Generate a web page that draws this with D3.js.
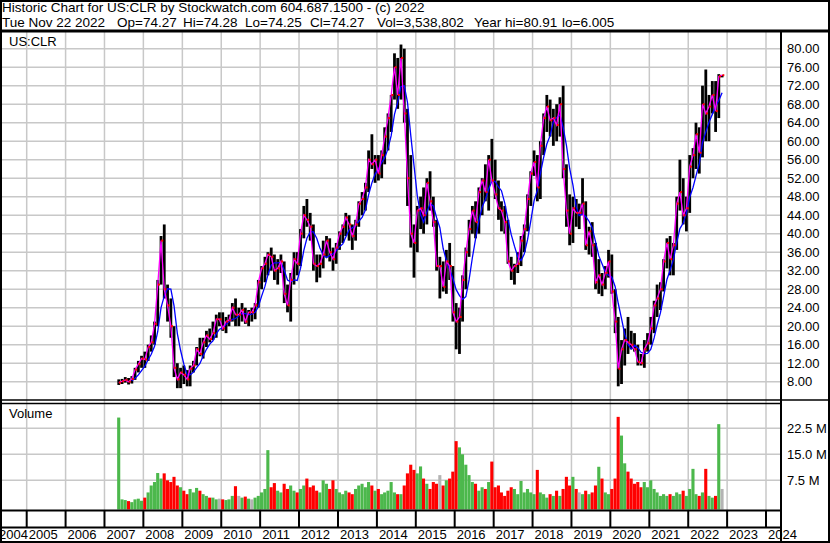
<!DOCTYPE html>
<html>
<head>
<meta charset="utf-8">
<script src="https://cdn.jsdelivr.net/npm/d3@7"></script>
<style>
  body { margin: 0; background: #fff; }
  text { font-family: 'Liberation Sans', Arial, sans-serif; font-size: 13px; fill: #000; }
  text.head { font-size: 13.5px; }
</style>
</head>
<body>
<script>
// monthly bars, first one is May 2007
var firstMonth = '2007-05';

var highs = [
  8.5, 8.6, 9.0, 8.8, 9.2, 11.0, 12.5, 13.6,                       // 2007
  14.5, 16.0, 18.0, 21.0, 30.0, 39.5, 42.0, 29.0, 26.0, 20.0, 12.0, 11.0, // 2008
  11.5, 10.5, 11.5, 12.5, 15.5, 17.5, 17.5, 19.0, 19.5, 21.0, 22.5, 23.0, // 2009
  23.0, 22.0, 22.5, 25.0, 26.0, 24.0, 25.0, 24.0, 23.5, 24.0, 25.0, 30.0, // 2010
  33.0, 35.0, 36.0, 37.0, 35.5, 34.5, 35.5, 34.0, 29.0, 31.5, 36.0, 36.0, // 2011
  41.0, 46.0, 47.5, 44.5, 42.0, 35.5, 35.5, 38.5, 39.5, 39.0, 37.0, 38.0, // 2012
  40.5, 42.0, 44.5, 44.0, 42.0, 43.0, 47.0, 49.0, 51.0, 58.0, 61.5, 57.0, // 2013
  57.0, 58.0, 63.0, 66.0, 70.0, 79.0, 78.0, 80.9, 80.0, 67.0, 57.0, 42.0, // 2014
  46.0, 48.0, 50.0, 52.0, 53.5, 48.0, 43.0, 35.0, 34.0, 36.5, 38.0, 33.0, // 2015
  25.0, 24.0, 31.0, 37.0, 43.0, 46.0, 47.0, 50.0, 52.0, 55.0, 57.0, 60.5, // 2016
  56.0, 51.5, 47.0, 46.0, 43.0, 35.0, 33.5, 36.0, 39.5, 42.0, 48.5, 53.5, // 2017
  58.0, 57.0, 60.0, 66.0, 70.0, 69.0, 67.0, 68.0, 69.5, 72.0, 55.0, 48.5, // 2018
  48.0, 47.5, 46.5, 52.0, 47.0, 41.5, 42.5, 38.0, 34.5, 31.5, 33.0, 36.5, // 2019
  35.5, 28.0, 22.0, 17.0, 19.5, 22.0, 19.0, 18.5, 16.0, 14.0, 17.0, 18.5, // 2020
  22.0, 25.5, 29.0, 29.5, 34.5, 39.0, 39.5, 38.0, 48.0, 56.0, 52.0, 48.0, // 2021
  57.0, 58.5, 64.0, 63.0, 72.0, 75.5, 70.0, 73.0, 73.0, 74.5, 74.3        // 2022
];

var lows = [
  7.3, 7.5, 7.8, 7.4, 7.6, 8.4, 10.0, 11.0,
  11.0, 12.5, 14.5, 16.0, 20.0, 29.0, 26.0, 21.0, 17.5, 9.0, 6.6, 6.6,
  7.5, 7.0, 7.0, 10.0, 11.5, 13.5, 13.0, 15.5, 16.5, 17.0, 17.5, 20.0,
  19.0, 18.5, 20.0, 21.0, 20.0, 20.0, 21.0, 20.5, 20.0, 21.0, 21.5, 24.0,
  28.0, 29.5, 31.0, 32.0, 30.0, 29.0, 31.5, 25.0, 23.0, 21.0, 29.0, 31.0,
  33.0, 39.0, 41.5, 38.5, 32.0, 29.5, 30.5, 32.5, 35.0, 34.0, 32.0, 33.5,
  36.5, 38.0, 39.5, 38.5, 36.5, 38.5, 41.5, 44.0, 45.0, 49.0, 54.0, 51.0,
  51.5, 52.0, 55.0, 58.0, 62.0, 69.0, 67.0, 69.0, 64.0, 46.0, 37.0, 30.5,
  36.0, 41.0, 40.0, 42.0, 45.0, 41.5, 32.0, 26.0, 27.5, 27.0, 30.0, 21.0,
  15.0, 14.0, 21.0, 28.0, 35.0, 40.0, 39.0, 40.0, 44.0, 47.0, 45.0, 51.0,
  47.5, 43.0, 40.5, 40.0, 33.5, 30.0, 29.0, 31.5, 33.0, 36.0, 40.5, 46.0,
  52.5, 47.0, 47.5, 57.0, 62.0, 61.0, 59.0, 60.0, 61.0, 52.0, 41.5, 37.5,
  38.0, 41.5, 41.0, 44.0, 36.5, 35.5, 35.0, 28.0, 27.0, 26.5, 28.0, 30.5,
  27.0, 18.5, 7.0, 7.5, 11.5, 14.0, 15.0, 14.5, 11.5, 11.5, 11.0, 14.5,
  16.0, 18.5, 22.0, 23.5, 27.5, 32.5, 31.0, 31.0, 36.5, 45.0, 42.0, 40.5,
  44.5, 52.0, 54.0, 53.0, 56.5, 60.0, 60.0, 66.0, 62.0, 65.0, 73.8
];

var closes = [
  7.8, 8.1, 8.4, 8.0, 8.6, 10.6, 11.8, 13.0,
  12.8, 15.5, 16.5, 20.5, 29.0, 38.5, 28.0, 24.5, 20.0, 11.0, 8.5, 10.0,
  9.5, 8.5, 10.8, 11.5, 15.0, 14.0, 16.5, 18.0, 17.2, 18.5, 21.5, 21.5,
  19.5, 21.0, 21.3, 24.0, 22.5, 22.5, 23.5, 21.0, 23.0, 23.0, 24.5, 29.5,
  32.5, 33.5, 35.5, 35.0, 32.0, 32.5, 34.0, 27.0, 24.5, 30.0, 34.5, 33.5,
  40.0, 44.0, 43.0, 41.5, 33.5, 33.0, 33.5, 35.5, 38.5, 36.0, 34.5, 37.0,
  40.0, 41.5, 43.5, 42.0, 39.5, 42.0, 46.5, 47.5, 50.0, 56.0, 55.0, 56.0,
  53.0, 57.0, 61.0, 65.0, 70.0, 76.0, 70.0, 78.0, 66.0, 52.0, 40.0, 38.0,
  45.0, 45.5, 44.0, 51.0, 47.0, 42.5, 33.0, 33.0, 28.5, 34.0, 33.0, 23.0,
  21.0, 22.0, 30.0, 36.0, 41.0, 45.0, 42.5, 49.0, 51.5, 49.0, 56.0, 51.5,
  48.5, 45.5, 45.0, 42.5, 34.0, 32.0, 33.0, 33.5, 38.5, 41.0, 47.5, 53.0,
  55.5, 50.0, 59.0, 65.0, 67.5, 64.5, 65.0, 63.5, 68.0, 54.0, 45.0, 40.0,
  45.5, 44.5, 44.5, 46.5, 37.5, 40.5, 37.5, 29.5, 31.0, 29.0, 31.5, 34.0,
  27.5, 21.0, 10.8, 15.0, 17.0, 16.5, 16.0, 15.0, 12.3, 12.0, 15.0, 16.3,
  19.5, 24.5, 26.0, 28.0, 34.0, 38.0, 34.5, 37.5, 46.5, 49.0, 44.0, 45.5,
  54.5, 57.0, 61.5, 57.5, 68.0, 66.0, 67.5, 70.0, 66.5, 74.0, 74.27
];

// volume in millions of shares
var volumes = [
  25.6, 2.0, 1.8, 1.5, 1.2, 2.0, 2.2, 1.6,
  2.5, 4.0, 6.0, 7.0, 9.6, 8.0, 9.5, 7.5, 7.0, 8.5, 6.0, 5.5,
  4.5, 3.5, 5.0, 4.0, 5.3, 4.5, 3.5, 3.0, 2.5, 2.5, 2.0, 2.2,
  2.0, 1.8, 2.0, 3.0, 5.8, 3.0, 2.5, 2.8, 2.2, 2.0, 2.5, 3.0,
  4.0, 5.0, 16.2, 5.5, 6.7, 4.5, 4.0, 6.5, 5.0, 6.0, 4.5, 4.0,
  5.0, 6.0, 8.0, 5.5, 6.0, 4.5, 4.0, 7.5, 6.5, 5.0, 7.5, 5.0,
  4.0, 3.5, 4.5, 4.0, 3.5, 5.0, 6.0, 6.5, 5.5, 7.0, 6.0, 4.5,
  5.0, 3.5, 4.0, 4.5, 7.0, 4.0, 3.5, 3.5, 6.0, 9.5, 12.0, 10.5,
  9.5, 11.5, 8.0, 6.5, 5.0, 7.0, 6.5, 9.0, 6.0, 7.5, 8.0, 10.0,
  18.8, 17.0, 15.0, 12.0, 9.0, 7.0, 6.5, 4.5, 5.5, 5.0, 7.0, 12.9,
  5.5, 6.0, 4.0, 3.0, 4.5, 5.5, 5.0, 3.5, 7.3, 4.0, 5.0, 4.0,
  3.5, 10.5, 4.0, 3.5, 2.5, 3.5, 3.0, 4.5, 3.0, 5.0, 8.5, 6.0,
  8.5, 5.0, 4.0, 3.5, 4.5, 3.5, 4.0, 6.0, 11.4, 8.0, 4.0, 3.5,
  5.0, 8.0, 25.8, 20.4, 12.4, 10.0, 8.0, 6.5, 7.0, 5.5, 7.0, 5.5,
  7.5, 5.0, 4.0, 3.0, 3.5, 3.0, 3.5, 3.0, 4.0, 3.5, 4.5, 3.0,
  5.0, 10.8, 3.5, 3.0, 4.0, 10.8, 3.0, 2.5, 3.0, 23.7, 5.0
];

var priceTicks = d3.range(8, 81, 4);
var volumeTicks = [7.5, 15, 22.5];

var headerLine1 = 'Historic Chart for US:CLR by Stockwatch.com 604.687.1500 - (c) 2022';
var headerFields = [
  ['Tue Nov 22 2022', 2], ['Op=74.27', 117], ['Hi=74.28', 183], ['Lo=74.25', 245],
  ['Cl=74.27', 310], ['Vol=3,538,802', 377], ['Year hi=80.91', 474], ['lo=6.005', 562]
];

var W = 830, H = 543;
var axisX = 781;

var svg = d3.select('body').append('svg')
    .attr('width', W)
    .attr('height', H);

svg.append('rect').attr('width', W).attr('height', H).attr('fill', '#fff');

var start = d3.timeParse('%Y-%m')(firstMonth);
var data = closes.map((c, i) => {
    var prev = i > 0 ? closes[i - 1] : null;
    var dir = prev === null ? 1 : (Math.abs(c - prev) / prev < 0.005 ? 0 : (c > prev ? 1 : -1));
    return {
        date: d3.timeDay.offset(d3.timeMonth.offset(start, i), 14),
        hi: highs[i], lo: lows[i], close: c, vol: volumes[i], dir: dir
    };
});

// slow moving average (5 months)
data.forEach((d, i) => {
    d.ma = i >= 4 ? d3.mean(closes.slice(i - 4, i + 1)) : null;
});

var x = d3.scaleTime()
    .domain([new Date(2005, 0, 1), new Date(2024, 0, 1)])
    .range([26.7, 766]);

var y = d3.scaleLinear().domain([8, 80]).range([381.7, 48.7]);
var vy = d3.scaleLinear().domain([0, 22.5]).range([506.3, 428.3]);

var years = d3.timeYear.range(new Date(2004, 0, 1), new Date(2025, 0, 1));

// gridlines
var grid = svg.append('g').attr('stroke', '#c8c8c8').attr('stroke-width', 1.5);

grid.selectAll('line.h')
    .data(priceTicks)
    .enter()
    .append('line')
    .attr('x1', 2).attr('x2', axisX)
    .attr('y1', d => y(d)).attr('y2', d => y(d));

grid.selectAll('line.vh')
    .data(volumeTicks)
    .enter()
    .append('line')
    .attr('x1', 2).attr('x2', axisX)
    .attr('y1', d => vy(d)).attr('y2', d => vy(d));

grid.selectAll('line.v')
    .data(years.filter(d => x(d) > 2 && x(d) < axisX))
    .enter()
    .append('line')
    .attr('x1', d => x(d)).attr('x2', d => x(d))
    .attr('y1', 32).attr('y2', 510);

// price panel
svg.append('clipPath').attr('id', 'clipPrice')
    .append('rect').attr('x', 2).attr('y', 32).attr('width', axisX - 2).attr('height', 367);

var price = svg.append('g').attr('clip-path', 'url(#clipPrice)');

price.selectAll('rect.bar')
    .data(data)
    .enter()
    .append('rect')
    .attr('x', d => x(d.date) - 1.4)
    .attr('width', 2.8)
    .attr('y', d => y(d.hi))
    .attr('height', d => y(d.lo) - y(d.hi))
    .attr('fill', '#000');

price.append('path')
    .datum(data.filter(d => d.ma !== null))
    .attr('fill', 'none')
    .attr('stroke', '#0000ff')
    .attr('stroke-width', 1.3)
    .attr('d', d3.line().x(d => x(d.date)).y(d => y(d.ma)));

price.append('path')
    .datum(data)
    .attr('fill', 'none')
    .attr('stroke', '#ff00ff')
    .attr('stroke-width', 1.3)
    .attr('d', d3.line().x(d => x(d.date)).y(d => y(d.close)));

price.selectAll('rect.cl')
    .data(data)
    .enter()
    .append('rect')
    .attr('x', d => x(d.date) + 0.2)
    .attr('width', 2)
    .attr('y', d => y(d.close) - 1)
    .attr('height', 2)
    .attr('fill', '#ff0000');

// volume panel
var volColor = d => d.dir > 0 ? '#4cb84c' : (d.dir < 0 ? '#ff0000' : '#b4b4b4');

svg.append('g').selectAll('rect')
    .data(data)
    .enter()
    .append('rect')
    .attr('x', d => x(d.date) - 1.6)
    .attr('width', 3.1)
    .attr('y', d => vy(d.vol))
    .attr('height', d => 509.5 - vy(d.vol))
    .attr('fill', volColor);

// frame
var frame = svg.append('g').attr('stroke', '#000');
frame.append('line').attr('x1', 0).attr('x2', W).attr('y1', 31).attr('y2', 31).attr('stroke-width', 3);
frame.append('line').attr('x1', axisX).attr('x2', axisX).attr('y1', 31).attr('y2', H).attr('stroke-width', 2);
frame.append('line').attr('x1', 0).attr('x2', W).attr('y1', 400).attr('y2', 400).attr('stroke-width', 1.5);
frame.append('line').attr('x1', 0).attr('x2', axisX).attr('y1', 403.5).attr('y2', 403.5).attr('stroke-width', 1.5);
frame.append('line').attr('x1', 0).attr('x2', axisX).attr('y1', 510.5).attr('y2', 510.5).attr('stroke-width', 2);
frame.append('line').attr('x1', 0).attr('x2', axisX).attr('y1', 527.5).attr('y2', 527.5).attr('stroke-width', 2);
frame.selectAll('line.yb')
    .data(years.filter(d => x(d) > 2 && x(d) < axisX))
    .enter()
    .append('line')
    .attr('x1', d => x(d)).attr('x2', d => x(d))
    .attr('y1', 510).attr('y2', 528)
    .attr('stroke-width', 2);
frame.append('rect').attr('x', 1).attr('y', 1).attr('width', W - 2).attr('height', H - 2)
    .attr('fill', 'none').attr('stroke-width', 2);

// axes
svg.append('g')
    .attr('transform', 'translate(' + axisX + ',0)')
    .call(d3.axisRight(y).tickValues(priceTicks).tickSize(0).tickPadding(6).tickFormat(d3.format('.2f')));

svg.append('g')
    .attr('transform', 'translate(' + axisX + ',0)')
    .call(d3.axisRight(vy).tickValues(volumeTicks).tickSize(0).tickPadding(6).tickFormat(d => d3.format('.1f')(d) + ' M'));

svg.selectAll('.domain').remove();
svg.selectAll('.tick text')
    .style('font-family', "'Liberation Sans', Arial, sans-serif")
    .style('font-size', '13px')
    .attr('fill', '#000');

svg.append('g').selectAll('text')
    .data(years)
    .enter()
    .append('text')
    .attr('x', d => Math.max(x(d) + 2, -1))
    .attr('y', 539)
    .text(d => d3.timeFormat('%Y')(d));

// header and panel titles
svg.append('text').attr('class', 'head').attr('x', 2).attr('y', 12).text(headerLine1);
svg.append('g').selectAll('text')
    .data(headerFields)
    .enter()
    .append('text')
    .attr('class', 'head')
    .attr('x', d => d[1])
    .attr('y', 27)
    .text(d => d[0]);

svg.append('text').attr('x', 9).attr('y', 46).text('US:CLR');
svg.append('text').attr('x', 9).attr('y', 418).text('Volume');
</script>
</body>
</html>
